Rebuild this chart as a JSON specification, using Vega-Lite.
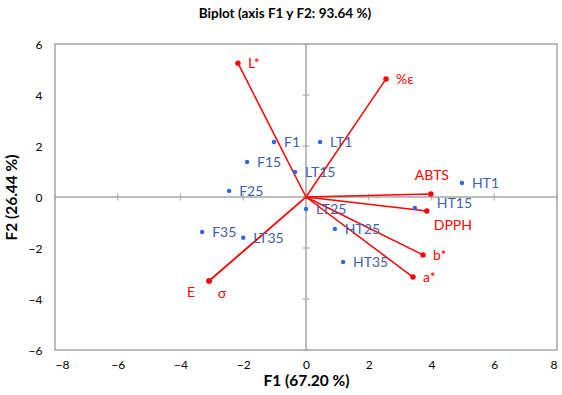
{
  "$schema": "https://vega.github.io/schema/vega-lite/v6.json",
  "autosize": "none",
  "width": 502,
  "height": 306,
  "padding": {"left": 55, "top": 44, "right": 5, "bottom": 45},
  "background": "white",
  "config": {
    "font": "Lato",
    "view": {"stroke": "#A6A6A6", "strokeWidth": 1.5},
    "axis": {"grid": false, "domain": false, "ticks": false, "labelFont": "Lato", "labelFontSize": 12, "labelColor": "#000000", "titleFont": "Lato", "titleFontSize": 15.5, "titleFontWeight": "bold", "titleColor": "#000000"}
  },
  "title": {"text": "Biplot (axis F1 y F2: 93.64 %)", "fontSize": 13.5, "fontWeight": "bold", "font": "Lato", "color": "#000000", "offset": 18, "dx": -21},
  "datasets": {
    "obs": [
      {"name": "F1", "F1": -1.02, "F2": 2.16},
      {"name": "LT1", "F1": 0.45, "F2": 2.16},
      {"name": "F15", "F1": -1.88, "F2": 1.37},
      {"name": "LT15", "F1": -0.35, "F2": 0.98},
      {"name": "F25", "F1": -2.45, "F2": 0.24},
      {"name": "LT25", "F1": 0.0, "F2": -0.47},
      {"name": "F35", "F1": -3.31, "F2": -1.37},
      {"name": "LT35", "F1": -2.0, "F2": -1.6},
      {"name": "HT25", "F1": 0.92, "F2": -1.25},
      {"name": "HT35", "F1": 1.18, "F2": -2.55},
      {"name": "HT1", "F1": 4.97, "F2": 0.55},
      {"name": "HT15", "F1": 3.47, "F2": -0.43}
    ],
    "vars": [
      {"name": "L*", "F1": -2.17, "F2": 5.25},
      {"name": "%ε", "F1": 2.55, "F2": 4.63},
      {"name": "ABTS", "F1": 3.98, "F2": 0.12},
      {"name": "DPPH", "F1": 3.85, "F2": -0.55},
      {"name": "b*", "F1": 3.73, "F2": -2.27},
      {"name": "a*", "F1": 3.41, "F2": -3.14},
      {"name": "E", "F1": -3.09, "F2": -3.29},
      {"name": "σ", "F1": -3.09, "F2": -3.29}
    ],
    "zero": [{"v": 0}],
    "xticks": [{"v": -8}, {"v": -6}, {"v": -4}, {"v": -2}, {"v": 0}, {"v": 2}, {"v": 4}, {"v": 6}, {"v": 8}],
    "yticks": [{"v": -6}, {"v": -4}, {"v": -2}, {"v": 0}, {"v": 2}, {"v": 4}, {"v": 6}]
  },
  "layer": [
    {
      "data": {"name": "obs"},
      "mark": {"type": "point", "opacity": 0},
      "encoding": {
        "x": {"field": "F1", "type": "quantitative", "scale": {"domain": [-8, 8], "nice": false, "zero": false}, "axis": {"values": [-8, -6, -4, -2, 0, 2, 4, 6, 8], "labelPadding": 9, "titlePadding": 3, "title": "F1 (67.20 %)"}},
        "y": {"field": "F2", "type": "quantitative", "scale": {"domain": [-6, 6], "nice": false, "zero": false}, "axis": {"values": [-6, -4, -2, 0, 2, 4, 6], "labelPadding": 13, "titlePadding": 9, "title": "F2 (26.44 %)"}}
      }
    },
    {
      "data": {"name": "zero"},
      "mark": {"type": "rule", "color": "#A6A6A6", "strokeWidth": 1.5},
      "encoding": {"y": {"field": "v", "type": "quantitative"}}
    },
    {
      "data": {"name": "zero"},
      "mark": {"type": "rule", "color": "#A6A6A6", "strokeWidth": 1.5},
      "encoding": {"x": {"field": "v", "type": "quantitative"}}
    },
    {
      "data": {"name": "xticks"},
      "mark": {"type": "tick", "orient": "vertical", "size": 7, "color": "#A6A6A6", "thickness": 1.5},
      "encoding": {"x": {"field": "v", "type": "quantitative"}, "y": {"datum": 0, "type": "quantitative"}}
    },
    {
      "data": {"name": "yticks"},
      "mark": {"type": "tick", "orient": "horizontal", "size": 7, "color": "#A6A6A6", "thickness": 1.5},
      "encoding": {"y": {"field": "v", "type": "quantitative"}, "x": {"datum": 0, "type": "quantitative"}}
    },
    {
      "data": {"name": "vars"},
      "mark": {"type": "rule", "color": "#FF0000", "strokeWidth": 1.5},
      "encoding": {
        "x": {"field": "F1", "type": "quantitative"},
        "y": {"field": "F2", "type": "quantitative"},
        "x2": {"datum": 0},
        "y2": {"datum": 0}
      }
    },
    {
      "data": {"name": "vars"},
      "mark": {"type": "circle", "color": "#FF0000", "opacity": 1, "size": 30},
      "encoding": {"x": {"field": "F1", "type": "quantitative"}, "y": {"field": "F2", "type": "quantitative"}}
    },
    {
      "data": {"name": "obs"},
      "mark": {"type": "circle", "color": "#2F66EE", "opacity": 1, "size": 20},
      "encoding": {"x": {"field": "F1", "type": "quantitative"}, "y": {"field": "F2", "type": "quantitative"}}
    },
    {
      "data": {"name": "obs"},
      "transform": [{"filter": "datum.name !== 'HT15'"}],
      "mark": {"type": "text", "align": "left", "baseline": "middle", "dx": 10, "dy": 1, "fontSize": 14, "color": "#3F5FA8", "font": "Lato"},
      "encoding": {"x": {"field": "F1", "type": "quantitative"}, "y": {"field": "F2", "type": "quantitative"}, "text": {"field": "name"}}
    },
    {
      "data": {"name": "obs"},
      "transform": [{"filter": "datum.name === 'HT15'"}],
      "mark": {"type": "text", "align": "left", "baseline": "middle", "dx": 22, "dy": -4, "fontSize": 14, "color": "#3F5FA8", "font": "Lato"},
      "encoding": {"x": {"field": "F1", "type": "quantitative"}, "y": {"field": "F2", "type": "quantitative"}, "text": {"field": "name"}}
    },
    {
      "data": {"name": "vars"},
      "transform": [{"filter": "indexof(['L*', '%ε', 'b*', 'a*'], datum.name) >= 0"}],
      "mark": {"type": "text", "align": "left", "baseline": "middle", "dx": 10, "dy": 1, "fontSize": 14, "color": "#FF0000", "font": "Lato"},
      "encoding": {"x": {"field": "F1", "type": "quantitative"}, "y": {"field": "F2", "type": "quantitative"}, "text": {"field": "name"}}
    },
    {
      "data": {"name": "vars"},
      "transform": [{"filter": "datum.name === 'ABTS'"}],
      "mark": {"type": "text", "align": "center", "baseline": "middle", "dx": 1, "dy": -18, "fontSize": 14, "color": "#FF0000", "font": "Lato"},
      "encoding": {"x": {"field": "F1", "type": "quantitative"}, "y": {"field": "F2", "type": "quantitative"}, "text": {"field": "name"}}
    },
    {
      "data": {"name": "vars"},
      "transform": [{"filter": "datum.name === 'DPPH'"}],
      "mark": {"type": "text", "align": "left", "baseline": "middle", "dx": 7, "dy": 15, "fontSize": 14, "color": "#FF0000", "font": "Lato"},
      "encoding": {"x": {"field": "F1", "type": "quantitative"}, "y": {"field": "F2", "type": "quantitative"}, "text": {"field": "name"}}
    },
    {
      "data": {"name": "vars"},
      "transform": [{"filter": "datum.name === 'E'"}],
      "mark": {"type": "text", "align": "center", "baseline": "middle", "dx": -18, "dy": 12, "fontSize": 14, "color": "#FF0000", "font": "Lato"},
      "encoding": {"x": {"field": "F1", "type": "quantitative"}, "y": {"field": "F2", "type": "quantitative"}, "text": {"field": "name"}}
    },
    {
      "data": {"name": "vars"},
      "transform": [{"filter": "datum.name === 'σ'"}],
      "mark": {"type": "text", "align": "center", "baseline": "middle", "dx": 13, "dy": 13, "fontSize": 14, "color": "#FF0000", "font": "Lato"},
      "encoding": {"x": {"field": "F1", "type": "quantitative"}, "y": {"field": "F2", "type": "quantitative"}, "text": {"field": "name"}}
    }
  ]
}
